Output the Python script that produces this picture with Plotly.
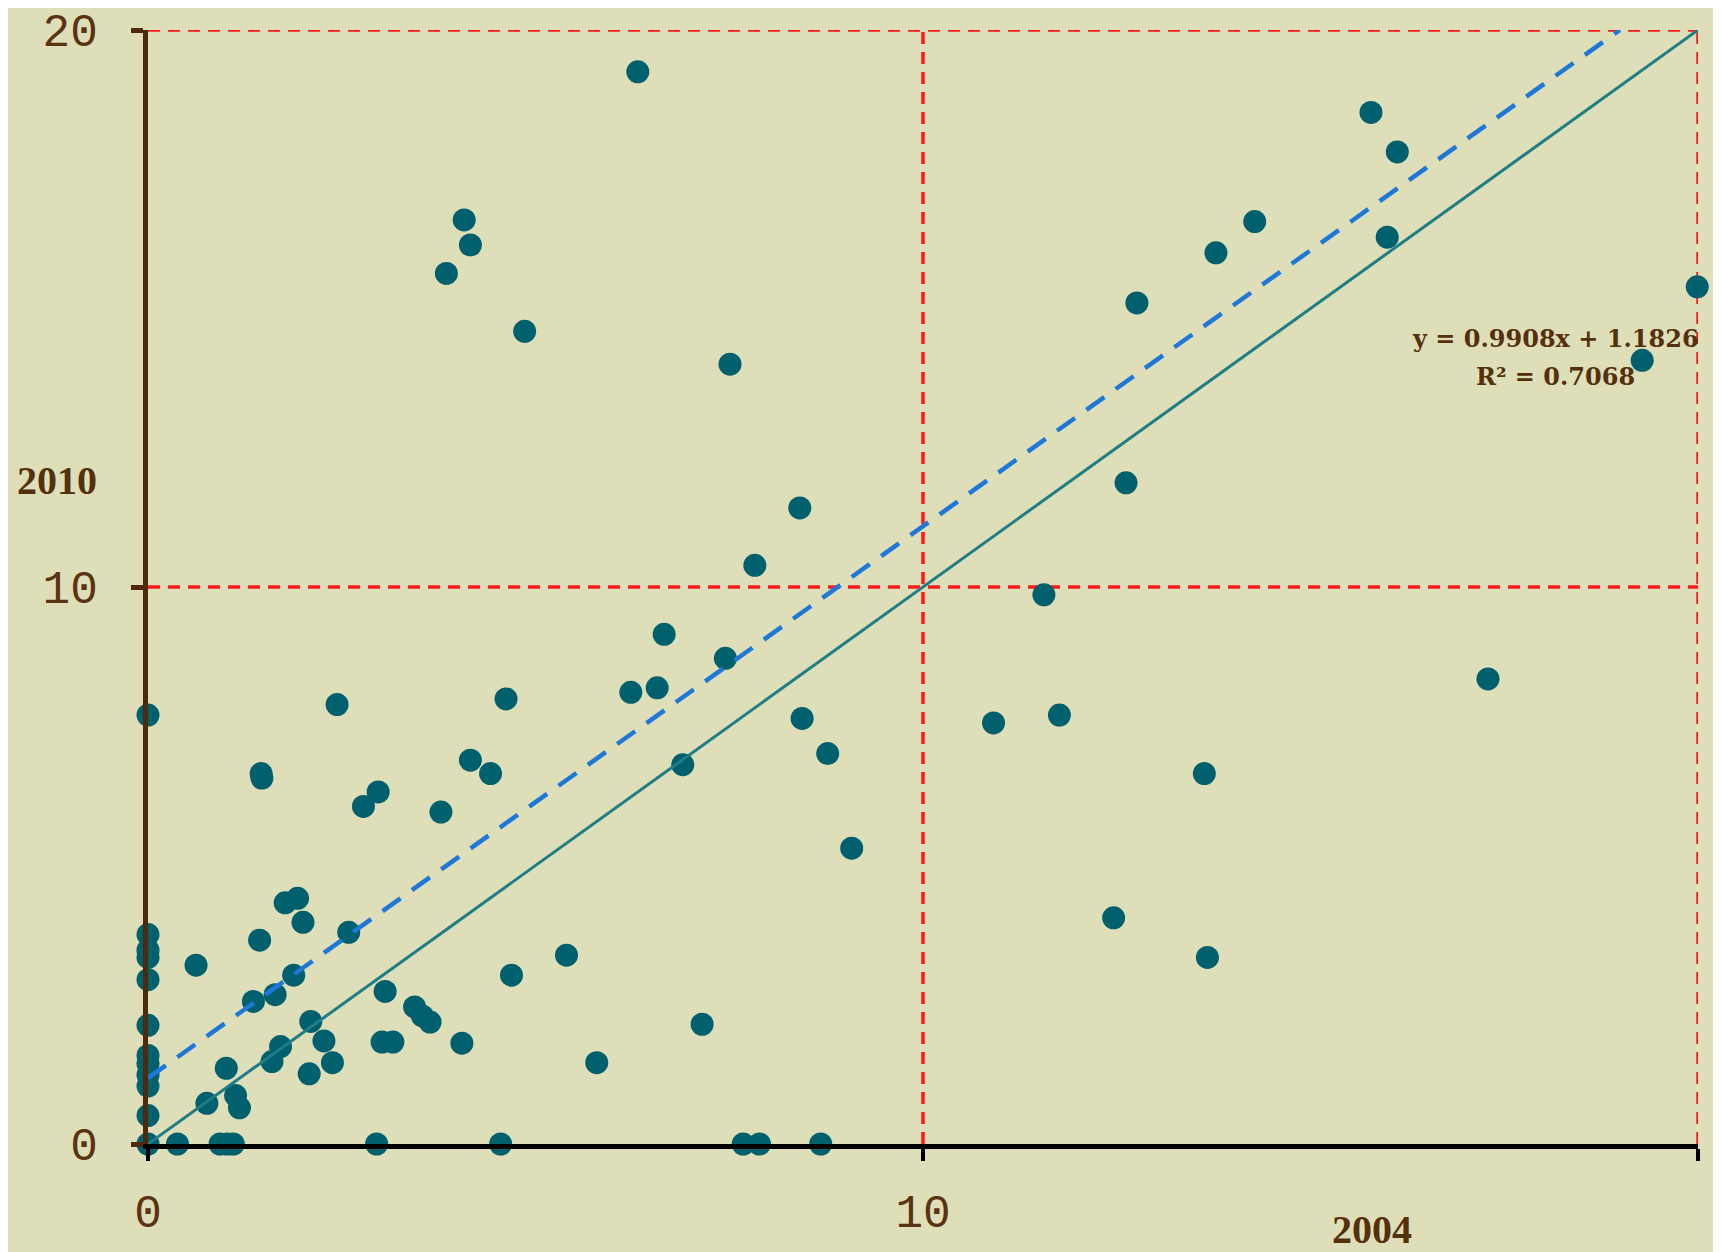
import plotly.graph_objects as go

# Data
x2004 = [6.32, 15.78, 16.12, 4.08, 4.16, 3.85, 14.28, 13.78, 15.99, 19.99, 12.76, 4.86, 7.51, 19.28,
         12.62, 8.41, 7.83, 11.56, 6.66, 7.45, 6.23, 6.57, 4.62, 2.44, 0.0, 17.29, 8.44, 10.91, 11.76,
         6.90, 4.16, 4.42, 8.77, 1.46, 1.47, 2.97, 2.78, 3.78, 13.63, 9.08, 1.77, 1.93, 2.00, 2.59, 1.44,
         12.46, 0.62, 5.40, 4.69, 1.88, 13.67, 1.64, 1.36, 3.06, 3.44, 3.54, 3.64, 2.10, 7.15, 2.27, 1.71,
         3.02, 3.16, 4.05, 1.60, 2.38, 5.79, 2.08, 1.01, 1.13, 1.18, 0.76,
         0, 0, 0, 0, 0, 0, 0, 0, 0, 0, 0,
         0.38, 0.93, 1.02, 1.10, 2.95, 4.55, 7.68, 7.89, 8.68]
y2010 = [19.25, 18.52, 17.81, 16.59, 16.14, 15.63, 16.56, 16.0, 16.28, 15.39, 15.10, 14.59, 14.0, 14.07,
         11.87, 11.42, 10.39, 9.86, 9.15, 8.72, 8.11, 8.19, 7.99, 7.89, 7.70, 8.35, 7.64, 7.56, 7.70,
         6.81, 6.89, 6.65, 7.01, 6.65, 6.57, 6.32, 6.06, 5.96, 6.65, 5.31, 4.33, 4.41, 3.98, 3.80, 3.66,
         4.06, 3.21, 3.39, 3.03, 3.03, 3.35, 2.68, 2.56, 2.74, 2.46, 2.30, 2.19, 2.20, 2.15, 1.85, 1.75,
         1.83, 1.83, 1.81, 1.48, 1.46, 1.46, 1.26, 1.36, 0.87, 0.65, 0.73,
         3.76, 3.48, 3.35, 2.95, 2.13, 1.59, 1.44, 1.24, 1.04, 0.51, 0.0,
         0, 0, 0, 0, 0, 0, 0, 0, 0]

slope = 0.9908
intercept = 1.1826
r2 = 0.7068
ticks = [0, 10, 20]
axis_max = 20
x_title = "2004"
y_title = "2010"

BG = "#dedfb8"
BROWN = "#5a3312"
TEAL = "#00606e"

fig = go.Figure()

# red dashed grid lines at 10 and 20
for t in ticks[1:]:
    fig.add_shape(type="line", xref="x", yref="y", x0=t, x1=t, y0=0, y1=axis_max,
                  line=dict(color="#ff1a1a", width=3.5, dash="12px,8px"), layer="below")
    fig.add_shape(type="line", xref="x", yref="y", x0=0, x1=axis_max, y0=t, y1=t,
                  line=dict(color="#ff1a1a", width=3.5, dash="12px,8px"), layer="below")

fig.add_trace(go.Scatter(x=x2004, y=y2010, mode="markers", cliponaxis=False,
                         marker=dict(size=23, color=TEAL, line=dict(width=0)),
                         showlegend=False, hoverinfo="x+y"))

# y = x reference line
fig.add_trace(go.Scatter(x=[0, axis_max], y=[0, axis_max], mode="lines",
                         line=dict(color="#1f7d86", width=3), showlegend=False, hoverinfo="skip"))

# linear trend line (dashed)
x_end = (axis_max - intercept) / slope
fig.add_trace(go.Scatter(x=[0, x_end], y=[intercept, slope * x_end + intercept], mode="lines",
                         line=dict(color="#1e78d8", width=4.5, dash="22px,14px"),
                         showlegend=False, hoverinfo="skip"))

tickfont = dict(family="Liberation Mono, DejaVu Sans Mono, monospace", size=46, color=BROWN)

fig.update_xaxes(range=[0, axis_max], tickvals=ticks, ticktext=[str(t) for t in ticks],
                 showgrid=False, zeroline=False, showline=True, linecolor="#000000", linewidth=5,
                 ticks="outside", ticklen=12, tickwidth=4, tickcolor="#000000",
                 tickfont=tickfont, ticklabelstandoff=11, automargin=False)
fig.update_yaxes(range=[0, axis_max], tickvals=ticks, ticktext=[str(t) for t in ticks],
                 showgrid=False, zeroline=False, showline=True, linecolor="#4f2a0a", linewidth=5,
                 ticks="outside", ticklen=12, tickwidth=5, tickcolor="#4f2a0a",
                 tickfont=tickfont, ticklabelstandoff=24, automargin=False)

titlefont = dict(family="Liberation Serif, DejaVu Serif, serif", size=40, color="#55300d")
fig.add_annotation(text="<b>%s</b>" % y_title, xref="paper", yref="paper", x=-0.0587, y=0.596,
                   xanchor="center", yanchor="middle", showarrow=False, font=titlefont)
fig.add_annotation(text="<b>%s</b>" % x_title, xref="paper", yref="paper", x=0.7897, y=-0.0765,
                   xanchor="center", yanchor="middle", showarrow=False, font=titlefont)

eqfont = dict(family="DejaVu Serif, Liberation Serif, serif", size=24, color="#55300d")
fig.add_annotation(text="<b>y = %.4fx + %.4f</b>" % (slope, intercept),
                   xref="paper", yref="paper", x=0.908, y=0.7235, xanchor="center", yanchor="middle",
                   showarrow=False, font=eqfont)
fig.add_annotation(text="<b>R² = %.4f</b>" % r2,
                   xref="paper", yref="paper", x=0.908, y=0.689, xanchor="center", yanchor="middle",
                   showarrow=False, font=eqfont)

fig.update_layout(width=1713, height=1244, paper_bgcolor=BG, plot_bgcolor=BG,
                  margin=dict(l=140, r=23, t=22, b=108), showlegend=False)

fig.write_html("out.html")
